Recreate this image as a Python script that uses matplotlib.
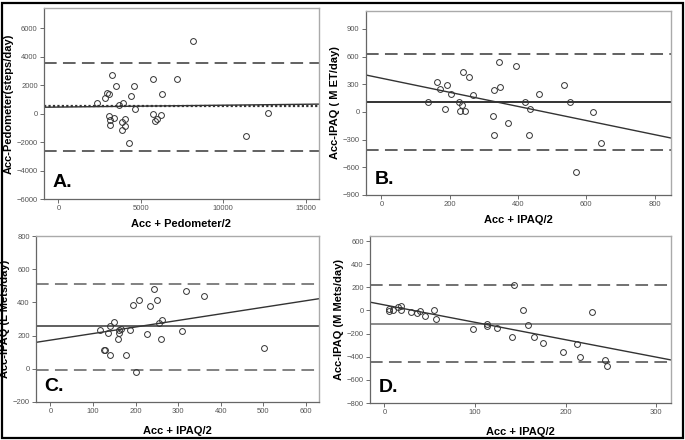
import matplotlib
matplotlib.use("Agg")
import matplotlib.pyplot as plt
from matplotlib.patches import Rectangle
import numpy as np

plt.rcParams['font.family'] = ['Liberation Sans', 'DejaVu Sans']

# Panel A: accelerometer vs pedometer (steps/day)
a_mean = [2362, 2826, 2927, 3088, 3250, 3492, 3048, 3129, 3149, 3371, 3694, 3936, 3855, 3875,
          4057, 4057, 4380, 4279, 4602, 4622, 5713, 5753, 5854, 5955, 6197, 6278, 7207, 8155,
          11345, 12738]
a_diff = [760, 1115, 1447, 1400, 2728, 1922, -190, -474, -830, -308, 617, 760, -593, -1186,
          -356, -878, 1210, -2064, 1922, 332, 2443, -24, -546, -403, -119, 1352, 2420, 5077,
          -1566, 24]

# Panel B: IPAQ MET/day
b_mean = [137, 163, 170, 191, 185, 204, 227, 231, 235, 238, 246, 257, 268, 326, 331, 331, 343,
          347, 371, 395, 420, 434, 433, 460, 534, 553, 570, 620, 642]
b_diff = [112, 322, 246, 289, 36, 199, 112, 11, 80, 437, 11, 383, 188, -43, 239, -249, 539,
          267, -119, 502, 105, 33, -249, 195, 293, 105, -654, -4, -340]

# Panel C: IPAQ light METs/day
c_mean = [117, 126, 128, 135, 139, 141, 150, 158, 160, 162, 166, 177, 188, 194, 201, 207, 227,
          233, 244, 251, 254, 260, 262, 310, 318, 362, 503]
c_diff = [235, 112, 114, 217, 261, 84, 283, 178, 233, 213, 239, 86, 233, 385, -20, 413, 211,
          379, 483, 417, 275, 180, 297, 227, 467, 439, 124]

# Panel D: IPAQ moderate METs/day
d_mean = [5.5, 5.5, 9.9, 15.4, 18.4, 18.7, 29.4, 36.4, 38.9, 45.2, 54.7, 56.6, 97.7, 113.8,
          113.8, 123.8, 141.4, 142.9, 153.1, 158.6, 164.9, 175.5, 196.8, 212.6, 216.3, 229.2,
          243.1, 246]
d_diff = [17, -6, 3, 32, 37, 3, -12, -20, -6, -49, 3, -78, -161, -115, -133, -153, -231, 219,
          0, -127, -231, -282, -360, -294, -403, -14, -432, -484]

# mean bias, limits of agreement, regression (intercept, slope)
bias = [520, 105, 258, -115]
upper = [3530, 629, 512, 222]
lower = [-2610, -412, -10, -447]
reg = [(451, 0.0132), (366, -0.765), (173, 0.3955), (48, -1.503)]

ylabels = ["Acc-Pedometer(steps/day)", "Acc-IPAQ ( M ET/day)",
           "Acc-IPAQ (L Mets/day)", "Acc-IPAQ (M Mets/day)"]
xlabels = ["Acc + Pedometer/2", "Acc + IPAQ/2", "Acc + IPAQ/2", "Acc + IPAQ/2"]
letters = ["A.", "B.", "C.", "D."]

fig = plt.figure(figsize=(6.85, 4.4), dpi=100)
fig.patches.append(Rectangle((0.003, 0.004), 0.994, 0.989, transform=fig.transFigure,
                             fill=False, edgecolor="black", linewidth=1.6))

positions = [[0.0642, 0.5477, 0.4015, 0.434], [0.534, 0.557, 0.445, 0.419],
             [0.0526, 0.0864, 0.413, 0.377], [0.540, 0.084, 0.439, 0.38]]
xlims = [(-870, 15800), (-46, 847), (-34, 631), (-16, 316)]
ylims = [(-6000, 7400), (-900, 1100), (-200, 800), (-800, 645)]
xticks = [[0, 5000, 10000, 15000], [0, 200, 400, 600, 800],
          [0, 100, 200, 300, 400, 500, 600], [0, 100, 200, 300]]
yticks = [np.arange(-6000, 6001, 2000), np.arange(-900, 901, 300),
          np.arange(-200, 801, 200), np.arange(-800, 601, 200)]
xs = [a_mean, b_mean, c_mean, d_mean]
ys = [a_diff, b_diff, c_diff, d_diff]
dash_col = ["#555555", "#555555", "#777777", "#666666"]
bias_col = ["#333333", "#111111", "#444444", "#777777"]
xpad = [5, 5, 7.5, 7.5]

for i in range(4):
    ax = fig.add_axes(positions[i])
    ax.set_xlim(xlims[i])
    ax.set_ylim(ylims[i])
    for y in (upper[i], lower[i]):
        ax.axhline(y, color=dash_col[i], linewidth=1.3, dashes=(7, 3.5))
    if i == 0:
        ax.axhline(bias[i], color="#333333", linewidth=1.6, linestyle=(0, (1, 1)))
    else:
        ax.axhline(bias[i], color=bias_col[i], linewidth=1.2)
    x0, x1 = xlims[i]
    b0, b1 = reg[i]
    ax.plot([x0, x1], [b0 + b1 * x0, b0 + b1 * x1], color="#333333", linewidth=1.0)
    ax.plot(xs[i], ys[i], "o", markersize=4.2, markerfacecolor="none",
            markeredgecolor="#333333", markeredgewidth=0.7)
    ax.set_xticks(xticks[i])
    ax.set_yticks(yticks[i])
    ax.tick_params(labelsize=5.5, labelcolor="#555555", length=3, width=0.6, color="#555555",
                   pad=1.5)
    for s in ("top", "right"):
        ax.spines[s].set_color("#aaaaaa")
        ax.spines[s].set_linewidth(1.0)
    for s in ("left", "bottom"):
        ax.spines[s].set_color("#666666")
        ax.spines[s].set_linewidth(0.9)
    ax.set_xlabel(xlabels[i], fontsize=8, fontweight="bold", labelpad=xpad[i])
    ax.set_ylabel(ylabels[i], fontsize=8, fontweight="bold", labelpad=2)
    ax.text(0.03, 0.04, letters[i], transform=ax.transAxes, fontsize=14,
            fontweight="bold", ha="left", va="bottom")

fig.savefig("out.png", dpi=100)
